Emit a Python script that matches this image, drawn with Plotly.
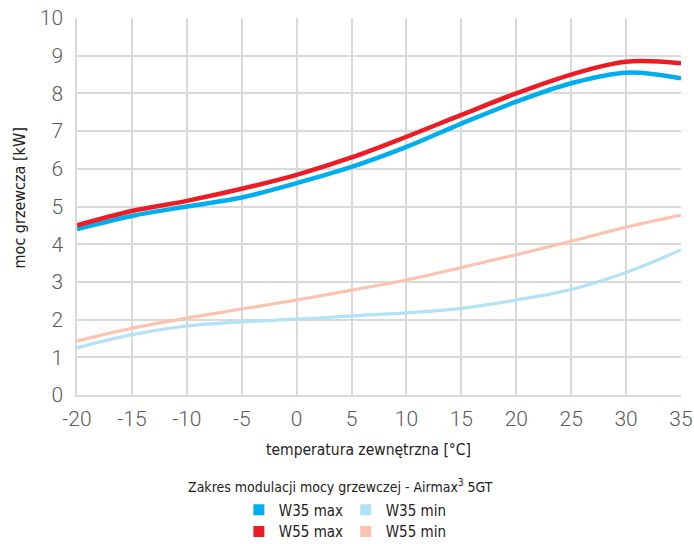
import plotly.graph_objects as go

temps = [-20, -15, -10, -5, 0, 5, 10, 15, 20, 25, 30, 35]
w35_max = [4.40, 4.75, 5.00, 5.24, 5.62, 6.05, 6.58, 7.20, 7.78, 8.27, 8.55, 8.40]
w55_max = [4.50, 4.88, 5.15, 5.47, 5.84, 6.30, 6.85, 7.43, 8.00, 8.50, 8.84, 8.80]
w35_min = [1.25, 1.60, 1.83, 1.94, 2.01, 2.10, 2.18, 2.30, 2.52, 2.80, 3.25, 3.85]
w55_min = [1.43, 1.77, 2.04, 2.28, 2.52, 2.78, 3.05, 3.38, 3.72, 4.08, 4.45, 4.77]

x_ticks = [-20, -15, -10, -5, 0, 5, 10, 15, 20, 25, 30, 35]
x_tick_labels = ["-20", "-15", "-10", "-5", "0", "5", "10", "15", "20", "25", "30", "35"]
y_ticks = list(range(0, 11))

series = [
    ("W35 min", w35_min, "#b3e1f8", 3.2),
    ("W55 min", w55_min, "#fbc3ae", 3.2),
    ("W35 max", w35_max, "#00aeef", 4.5),
    ("W55 max", w55_max, "#ed1c24", 4.5),
]

fig = go.Figure()
for name, vals, col, w in series:
    fig.add_trace(go.Scatter(x=temps, y=vals, mode="lines", name=name,
                             line=dict(color=col, width=w, shape="spline", smoothing=1.0),
                             showlegend=False, hoverinfo="x+y+name"))

# legend entries: one legend per item so each can be placed like the reference grid
legend_items = [("W35 max", "#00aeef", "legend"), ("W35 min", "#b3e1f8", "legend2"),
                ("W55 max", "#ed1c24", "legend3"), ("W55 min", "#fbc3ae", "legend4")]
for name, col, lg in legend_items:
    fig.add_trace(go.Scatter(x=[None], y=[None], mode="markers", name=name,
                             marker=dict(symbol="square", size=11, color=col),
                             legend=lg, showlegend=True))

tick_font = dict(family="Roboto", size=21, color="#5a5a5a", weight=300)
narrow = "DejaVu Sans Condensed"
leg_font = dict(family=narrow, size=15, color="#222222")

leg_common = dict(orientation="h", xanchor="left", yanchor="middle",
                  font=leg_font, itemwidth=30, bgcolor="rgba(0,0,0,0)")

fig.update_layout(
    width=694, height=544,
    margin=dict(l=77, r=13, t=18, b=149, autoexpand=False),
    paper_bgcolor="white", plot_bgcolor="white",
    xaxis=dict(range=[-20, 35], tickvals=x_ticks, ticktext=x_tick_labels, showgrid=True,
               gridcolor="#d9d9d9", gridwidth=1.5, zeroline=False, showline=True,
               linecolor="#d9d9d9", linewidth=1.5, tickfont=tick_font, ticks="",
               ticklabelstandoff=4, ticklabeloverflow="allow"),
    yaxis=dict(range=[0, 10], tickvals=y_ticks, showgrid=True, gridcolor="#d9d9d9",
               gridwidth=1.5, zeroline=False, showline=True, linecolor="#d9d9d9",
               linewidth=1.5, tickfont=tick_font, ticks="", ticklabelstandoff=8,
               ticklabeloverflow="allow"),
    legend=dict(x=0.268, y=-0.305, **leg_common),
    legend2=dict(x=0.445, y=-0.305, **leg_common),
    legend3=dict(x=0.268, y=-0.363, **leg_common),
    legend4=dict(x=0.445, y=-0.363, **leg_common),
    annotations=[
        dict(text="temperatura zewnętrzna [°C]", xref="paper", yref="paper",
             x=0.483, y=-0.145, xanchor="center", yanchor="middle", showarrow=False,
             font=dict(family=narrow, size=15.5, color="#222222")),
        dict(text="moc grzewcza [kW]", xref="paper", yref="paper",
             x=-0.095, y=0.523, xanchor="center", yanchor="middle", showarrow=False,
             textangle=-90, font=dict(family=narrow, size=16, color="#222222")),
        dict(text="Zakres modulacji mocy grzewczej - Airmax<sup>3</sup> 5GT",
             xref="paper", yref="paper", x=0.437, y=-0.242, xanchor="center",
             yanchor="middle", showarrow=False,
             font=dict(family=narrow, size=14, color="#222222")),
    ],
)

fig.write_html("out.html", config={"displayModeBar": False},
               post_script="document.body.style.margin='0';")
